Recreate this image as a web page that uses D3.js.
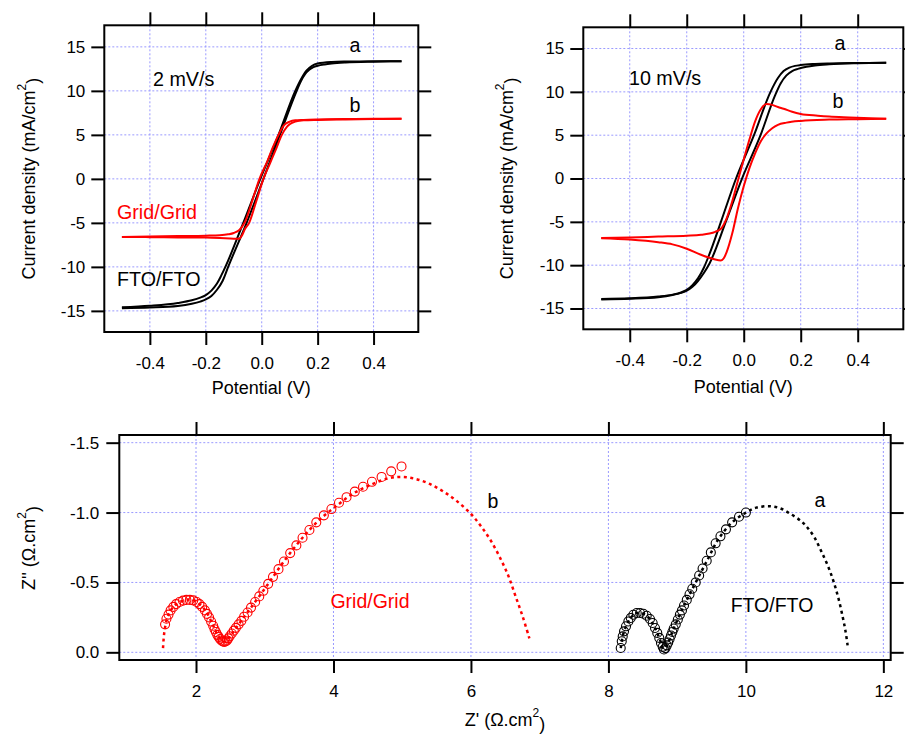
<!DOCTYPE html>
<html>
<head>
<meta charset="utf-8">
<script src="https://cdn.jsdelivr.net/npm/d3@7"></script>
<style>
  html, body { margin: 0; padding: 0; background: #fff; }
  svg { display: block; font-family: "Liberation Sans", Arial, sans-serif; }
</style>
</head>
<body>
<svg id="chart" width="905" height="735"></svg>
<script>
// ---------------- DATA ----------------
// CV ticks
const cvXTicks = [-0.4, -0.2, 0.0, 0.2, 0.4];
const cvXTickLabels = ["-0.4", "-0.2", "0.0", "0.2", "0.4"];
const cvYTicks = [15, 10, 5, 0, -5, -10, -15];
const cvYTickLabels = ["15", "10", "5", "0", "-5", "-10", "-15"];

// 2 mV/s — FTO/FTO (a), forward and reverse branches [V, J]
const cv2_FTO_fwd = [[-0.5,-14.7],[-0.4,-14.62],[-0.3,-14.45],[-0.25,-14.2],[-0.22,-13.95],[-0.2,-13.7],[-0.18,-13.3],[-0.16,-12.6],[-0.14,-11.6],[-0.12,-10.0],[-0.054,-5.0],[0.006,0],[0.065,5.0],[0.125,10.0],[0.14,11.1],[0.155,11.9],[0.17,12.4],[0.185,12.7],[0.2,12.85],[0.225,13.0],[0.25,13.1],[0.3,13.22],[0.4,13.32],[0.5,13.37]];
const cv2_FTO_rev = [[-0.5,-14.6],[-0.4,-14.42],[-0.3,-14.1],[-0.25,-13.8],[-0.22,-13.5],[-0.2,-13.2],[-0.18,-12.7],[-0.16,-11.9],[-0.145,-11.0],[-0.13,-10.0],[-0.066,-5.0],[-0.005,0],[0.06,5.0],[0.12,10.0],[0.14,11.3],[0.16,12.3],[0.18,12.85],[0.2,13.1],[0.25,13.28],[0.3,13.33],[0.4,13.36],[0.5,13.37]];
// 2 mV/s — Grid/Grid (b)
const cv2_Grid_fwd = [[-0.5,-6.6],[-0.4,-6.62],[-0.3,-6.65],[-0.2,-6.67],[-0.15,-6.72],[-0.1,-6.8],[-0.08,-6.8],[-0.07,-6.4],[-0.06,-5.7],[-0.045,-5.0],[-0.02,-2.6],[0.006,0],[0.03,1.8],[0.05,3.3],[0.072,5.0],[0.09,5.9],[0.1,6.2],[0.12,6.5],[0.15,6.65],[0.2,6.7],[0.3,6.75],[0.4,6.8],[0.5,6.83]];
const cv2_Grid_rev = [[-0.5,-6.6],[-0.4,-6.55],[-0.3,-6.5],[-0.2,-6.45],[-0.15,-6.4],[-0.12,-6.3],[-0.1,-6.15],[-0.08,-5.8],[-0.06,-4.9],[-0.03,-2.1],[-0.008,0],[0.02,2.0],[0.04,3.6],[0.06,5.0],[0.08,6.1],[0.1,6.5],[0.12,6.65],[0.15,6.7],[0.2,6.75],[0.3,6.8],[0.4,6.82],[0.5,6.83]];

// 10 mV/s — FTO/FTO (a)
const cv10_FTO_fwd = [[-0.5,-13.95],[-0.4,-13.88],[-0.3,-13.7],[-0.25,-13.45],[-0.22,-13.2],[-0.2,-12.95],[-0.18,-12.5],[-0.16,-11.8],[-0.14,-10.9],[-0.12,-9.8],[-0.063,-5.0],[-0.006,0],[0.059,5.0],[0.11,9.6],[0.13,11.0],[0.15,11.9],[0.17,12.4],[0.19,12.65],[0.22,12.9],[0.25,13.05],[0.3,13.18],[0.4,13.3],[0.5,13.35]];
const cv10_FTO_rev = [[-0.5,-13.9],[-0.4,-13.83],[-0.3,-13.62],[-0.25,-13.4],[-0.22,-13.15],[-0.2,-12.85],[-0.18,-12.3],[-0.16,-11.5],[-0.14,-10.3],[-0.12,-8.7],[-0.08,-5.0],[-0.027,0],[0.036,5.0],[0.094,10.0],[0.12,11.6],[0.14,12.4],[0.16,12.8],[0.18,13.0],[0.2,13.1],[0.25,13.22],[0.3,13.28],[0.4,13.33],[0.5,13.35]];
// 10 mV/s — Grid/Grid (b)
const cv10_Grid_fwd = [[-0.5,-6.85],[-0.4,-6.8],[-0.3,-6.7],[-0.2,-6.6],[-0.15,-6.5],[-0.12,-6.35],[-0.1,-6.15],[-0.08,-5.8],[-0.06,-4.6],[-0.04,-2.6],[-0.02,-0.2],[0.0,2.2],[0.02,4.5],[0.04,6.6],[0.06,8.0],[0.08,8.6],[0.1,8.5],[0.12,8.25],[0.14,8.05],[0.17,7.7],[0.2,7.45],[0.26,7.25],[0.3,7.15],[0.37,7.05],[0.5,6.9]];
const cv10_Grid_rev = [[-0.5,-6.9],[-0.4,-7.05],[-0.3,-7.35],[-0.25,-7.6],[-0.2,-8.1],[-0.15,-8.8],[-0.12,-9.15],[-0.1,-9.35],[-0.08,-9.45],[-0.07,-9.2],[-0.06,-8.5],[-0.04,-6.3],[-0.02,-3.4],[0.0,-0.9],[0.02,1.2],[0.04,2.9],[0.06,4.3],[0.08,5.2],[0.1,5.8],[0.12,6.2],[0.15,6.45],[0.2,6.65],[0.3,6.8],[0.4,6.85],[0.5,6.9]];

// Nyquist ticks
const nyXTicks = [2, 4, 6, 8, 10, 12];
const nyXTickLabels = ["2", "4", "6", "8", "10", "12"];
const nyYTicks = [-1.5, -1.0, -0.5, 0.0];
const nyYTickLabels = ["-1.5", "-1.0", "-0.5", "0.0"];

// Grid/Grid (b) measured [Z', Z'']
const nyGridData = [[1.55,-0.20],[1.57,-0.24],[1.60,-0.27],[1.63,-0.30],[1.67,-0.325],[1.71,-0.345],[1.76,-0.36],[1.81,-0.37],[1.86,-0.375],[1.91,-0.375],[1.96,-0.372],[2.01,-0.36],[2.05,-0.345],[2.09,-0.325],[2.13,-0.30],[2.16,-0.275],[2.19,-0.25],[2.22,-0.22],[2.25,-0.19],[2.27,-0.165],[2.29,-0.145],[2.31,-0.125],[2.33,-0.11],[2.35,-0.095],[2.37,-0.085],[2.39,-0.078],[2.41,-0.075],[2.43,-0.078],[2.45,-0.085],[2.47,-0.10],[2.49,-0.115],[2.52,-0.135],[2.55,-0.155],[2.58,-0.175],[2.62,-0.20],[2.66,-0.225],[2.70,-0.255],[2.75,-0.285],[2.80,-0.32],[2.86,-0.36],[2.92,-0.40],[2.98,-0.44],[3.05,-0.49],[3.12,-0.54],[3.20,-0.595],[3.28,-0.65],[3.37,-0.71],[3.46,-0.765],[3.55,-0.82],[3.65,-0.875],[3.75,-0.93],[3.86,-0.98],[3.97,-1.025],[4.08,-1.07],[4.19,-1.11],[4.31,-1.15],[4.43,-1.185],[4.56,-1.22],[4.70,-1.255],[4.84,-1.295],[4.99,-1.33]];
// Grid/Grid (b) fit
const nyGridFit = [[1.52,-0.03],[1.53,-0.10],[1.55,-0.18],[1.60,-0.27],[1.70,-0.34],[1.85,-0.375],[1.95,-0.375],[2.05,-0.345],[2.15,-0.29],[2.25,-0.19],[2.33,-0.11],[2.39,-0.078],[2.43,-0.078],[2.50,-0.12],[2.62,-0.20],[2.80,-0.32],[3.05,-0.49],[3.30,-0.665],[3.55,-0.82],[3.80,-0.95],[4.05,-1.05],[4.30,-1.14],[4.55,-1.20],[4.80,-1.245],[5.00,-1.255],[5.20,-1.24],[5.40,-1.205],[5.60,-1.15],[5.80,-1.08],[6.00,-0.99],[6.15,-0.90],[6.30,-0.79],[6.45,-0.65],[6.55,-0.54],[6.65,-0.40],[6.75,-0.26],[6.85,-0.10]];

// FTO/FTO (a) measured
const nyFTOData = [[8.179,-0.031],[8.194,-0.079],[8.208,-0.114],[8.227,-0.150],[8.256,-0.186],[8.290,-0.221],[8.325,-0.246],[8.363,-0.269],[8.412,-0.281],[8.46,-0.281],[8.508,-0.276],[8.557,-0.262],[8.605,-0.238],[8.644,-0.21],[8.678,-0.174],[8.711,-0.139],[8.74,-0.103],[8.765,-0.067],[8.79,-0.039],[8.809,-0.02],[8.83,-0.03],[8.85,-0.05],[8.87,-0.07],[8.89,-0.095],[8.91,-0.12],[8.93,-0.145],[8.95,-0.17],[8.98,-0.20],[9.01,-0.235],[9.04,-0.27],[9.07,-0.30],[9.10,-0.335],[9.14,-0.375],[9.18,-0.415],[9.22,-0.455],[9.27,-0.50],[9.32,-0.55],[9.37,-0.60],[9.43,-0.655],[9.49,-0.715],[9.56,-0.78],[9.63,-0.83],[9.71,-0.88],[9.80,-0.93],[9.90,-0.97],[10.0,-1.0]];
// FTO/FTO (a) fit
const nyFTOFit = [[8.18,-0.03],[8.21,-0.12],[8.26,-0.19],[8.33,-0.25],[8.41,-0.28],[8.50,-0.278],[8.60,-0.24],[8.68,-0.17],[8.75,-0.09],[8.80,-0.025],[8.85,-0.05],[8.95,-0.17],[9.10,-0.335],[9.27,-0.50],[9.45,-0.67],[9.60,-0.81],[9.80,-0.93],[10.0,-1.0],[10.15,-1.035],[10.35,-1.045],[10.5,-1.03],[10.65,-0.99],[10.8,-0.94],[10.9,-0.89],[11.0,-0.82],[11.1,-0.72],[11.2,-0.61],[11.28,-0.5],[11.35,-0.38],[11.41,-0.25],[11.45,-0.15],[11.48,-0.05]];

// ---------------- DRAWING ----------------
const svg = d3.select("#chart");
const RED = "#ff0000", BLACK = "#000000", GRID = "#9a9aff";

function panel(cfg) {
  const g = svg.append("g");
  const x = d3.scaleLinear().domain(cfg.xDomain).range([cfg.left, cfg.right]);
  const y = d3.scaleLinear().domain(cfg.yDomain).range([cfg.bottom, cfg.top]);

  // grid
  g.append("g").selectAll("line.gx").data(cfg.xTicks).join("line")
    .attr("x1", d => x(d)).attr("x2", d => x(d)).attr("y1", cfg.top).attr("y2", cfg.bottom)
    .attr("stroke", GRID).attr("stroke-width", 1).attr("stroke-dasharray", "2,2");
  g.append("g").selectAll("line.gy").data(cfg.yTicks).join("line")
    .attr("y1", d => y(d)).attr("y2", d => y(d)).attr("x1", cfg.left).attr("x2", cfg.right)
    .attr("stroke", GRID).attr("stroke-width", 1).attr("stroke-dasharray", "2,2");

  // axes
  const ts = 13;
  const styleAxis = sel => {
    sel.select(".domain").remove();
    sel.selectAll(".tick line").attr("stroke", BLACK).attr("stroke-width", 2);
    sel.selectAll(".tick text").attr("fill", BLACK).style("font-size", "17px")
      .style("font-family", '"Liberation Sans", Arial, sans-serif');
  };
  g.append("g").attr("transform", `translate(0,${cfg.bottom})`)
    .call(d3.axisBottom(x).tickValues(cfg.xTicks).tickFormat((d, i) => cfg.xLabels[i]).tickSize(ts).tickPadding(cfg.xPad))
    .call(styleAxis);
  g.append("g").attr("transform", `translate(0,${cfg.top})`)
    .call(d3.axisTop(x).tickValues(cfg.xTicks).tickFormat("").tickSize(ts))
    .call(styleAxis);
  g.append("g").attr("transform", `translate(${cfg.left},0)`)
    .call(d3.axisLeft(y).tickValues(cfg.yTicks).tickFormat((d, i) => cfg.yLabels[i]).tickSize(ts).tickPadding(cfg.yPad))
    .call(styleAxis);
  g.append("g").attr("transform", `translate(${cfg.right},0)`)
    .call(d3.axisRight(y).tickValues(cfg.yTicks).tickFormat("").tickSize(ts))
    .call(styleAxis);

  // frame
  g.append("rect").attr("x", cfg.left).attr("y", cfg.top)
    .attr("width", cfg.right - cfg.left).attr("height", cfg.bottom - cfg.top)
    .attr("fill", "none").attr("stroke", BLACK).attr("stroke-width", 2);

  const clip = "clip" + Math.round(cfg.left) + "_" + Math.round(cfg.top);
  svg.append("defs").append("clipPath").attr("id", clip).append("rect")
    .attr("x", cfg.left).attr("y", cfg.top).attr("width", cfg.right - cfg.left).attr("height", cfg.bottom - cfg.top);
  const plot = g.append("g").attr("clip-path", `url(#${clip})`);
  return { g, plot, x, y };
}

function cvPanel(cfg, series, texts) {
  const p = panel(Object.assign({
    xDomain: [-0.563, 0.56], yDomain: [-17.4, 17.45],
    xTicks: cvXTicks, xLabels: cvXTickLabels, yTicks: cvYTicks, yLabels: cvYTickLabels,
    xPad: 12, yPad: 6
  }, cfg));
  const line = d3.line().x(d => p.x(d[0])).y(d => p.y(d[1])).curve(d3.curveMonotoneX);
  series.forEach(s => {
    p.plot.append("path").attr("d", line(s.data)).attr("fill", "none")
      .attr("stroke", s.color).attr("stroke-width", 2).attr("stroke-linejoin", "round");
  });
  texts.forEach(t => {
    p.g.append("text").attr("x", t.x).attr("y", t.y).attr("fill", t.color || BLACK)
      .attr("text-anchor", t.anchor || "start").attr("dominant-baseline", "central")
      .style("font-size", (t.size || 19.7) + "px").text(t.text);
  });
  // axis titles
  const yl = p.g.append("text")
    .attr("transform", `translate(${cfg.yTitleX},${(cfg.top + cfg.bottom) / 2}) rotate(-90)`)
    .attr("text-anchor", "middle").attr("dominant-baseline", "central").style("font-size", "18px");
  yl.append("tspan").text("Current density (mA/cm");
  yl.append("tspan").attr("dy", "-0.6em").style("font-size", "12px").text("2");
  yl.append("tspan").attr("dy", "0.6em").text(")");
  p.g.append("text").attr("x", (cfg.left + cfg.right) / 2).attr("y", cfg.xTitleY)
    .attr("text-anchor", "middle").attr("dominant-baseline", "central").style("font-size", "18px")
    .text("Potential (V)");
  return p;
}

// Top-left: 2 mV/s
cvPanel({ left: 104.3, right: 418.3, top: 25.3, bottom: 332, yTitleX: 29, xTitleY: 388 },
  [
    { data: cv2_FTO_fwd, color: BLACK }, { data: cv2_FTO_rev, color: BLACK },
    { data: cv2_Grid_fwd, color: RED }, { data: cv2_Grid_rev, color: RED }
  ],
  [
    { text: "a", x: 355, y: 45, anchor: "middle" },
    { text: "b", x: 355, y: 105, anchor: "middle" },
    { text: "2 mV/s", x: 153, y: 79 },
    { text: "Grid/Grid", x: 117, y: 212, color: RED },
    { text: "FTO/FTO", x: 117, y: 279 }
  ]);

// Top-right: 10 mV/s
cvPanel({ left: 583.3, right: 903.3, top: 27.3, bottom: 329.3, yTitleX: 507, xTitleY: 387 },
  [
    { data: cv10_FTO_fwd, color: BLACK }, { data: cv10_FTO_rev, color: BLACK },
    { data: cv10_Grid_fwd, color: RED }, { data: cv10_Grid_rev, color: RED }
  ],
  [
    { text: "a", x: 840, y: 43, anchor: "middle" },
    { text: "b", x: 838, y: 101, anchor: "middle" },
    { text: "10 mV/s", x: 629, y: 78 }
  ]);

// Bottom: Nyquist
const cfgB = { left: 119.3, right: 890.7, top: 435, bottom: 660 };
const pb = panel(Object.assign({
  xDomain: [0.884, 12.107], yDomain: [0.055, -1.555],
  xTicks: nyXTicks, xLabels: nyXTickLabels, yTicks: nyYTicks, yLabels: nyYTickLabels,
  xPad: 12, yPad: 7
}, cfgB));
const fitLine = d3.line().x(d => pb.x(d[0])).y(d => pb.y(d[1])).curve(d3.curveCatmullRom.alpha(0.5));
[[nyGridFit, RED], [nyFTOFit, BLACK]].forEach(([data, c]) => {
  pb.plot.append("path").attr("d", fitLine(data)).attr("fill", "none")
    .attr("stroke", c).attr("stroke-width", 2.5).attr("stroke-dasharray", "3,3.5");
});
[[nyGridData, RED], [nyFTOData, BLACK]].forEach(([data, c]) => {
  pb.plot.append("g").selectAll("circle").data(data).join("circle")
    .attr("cx", d => pb.x(d[0])).attr("cy", d => pb.y(d[1])).attr("r", 4.5)
    .attr("fill", "none").attr("stroke", c).attr("stroke-width", 1.1);
});
[
  { text: "b", x: 493, y: 501 },
  { text: "a", x: 820, y: 500 },
  { text: "Grid/Grid", x: 370, y: 601, color: RED },
  { text: "FTO/FTO", x: 772, y: 605 }
].forEach(t => {
  pb.g.append("text").attr("x", t.x).attr("y", t.y).attr("fill", t.color || BLACK)
    .attr("text-anchor", "middle").attr("dominant-baseline", "central")
    .style("font-size", "19.5px").text(t.text);
});
// axis titles bottom
const byl = pb.g.append("text")
  .attr("transform", `translate(29,548) rotate(-90)`)
  .attr("text-anchor", "middle").attr("dominant-baseline", "central").style("font-size", "18px");
byl.append("tspan").text("Z'' (Ω.cm");
byl.append("tspan").attr("dy", "-0.6em").style("font-size", "12px").text("2");
byl.append("tspan").attr("dy", "0.6em").text(")");
const bxl = pb.g.append("text").attr("x", 505).attr("y", 720)
  .attr("text-anchor", "middle").attr("dominant-baseline", "central").style("font-size", "18px");
bxl.append("tspan").text("Z' (Ω.cm");
bxl.append("tspan").attr("dy", "-0.6em").style("font-size", "12px").text("2");
bxl.append("tspan").attr("dy", "0.6em").text(")");
</script>
</body>
</html>
